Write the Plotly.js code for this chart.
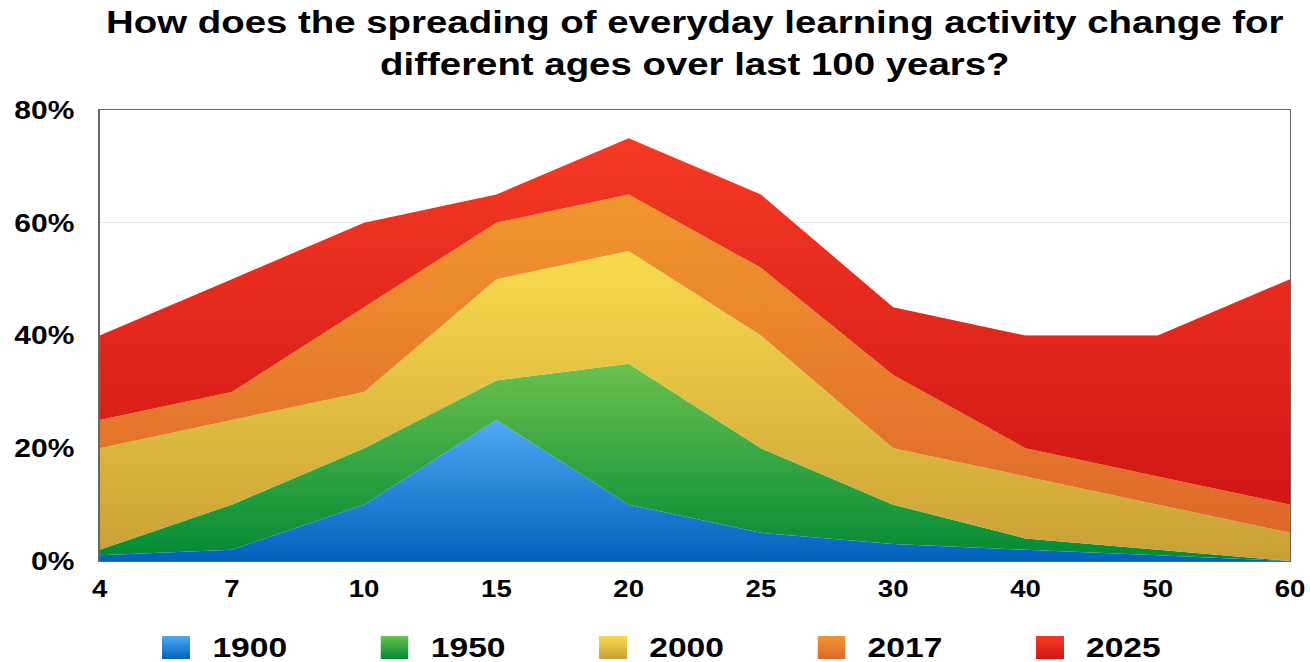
<!DOCTYPE html>
<html>
<head>
<meta charset="utf-8">
<script src="https://cdn.plot.ly/plotly-3.0.1.min.js"></script>
<style>
  html, body { margin: 0; padding: 0; overflow: hidden; background: #fff; width: 1310px; height: 662px; }
  /* the chart is laid out narrower and widened horizontally for the wide lettering */
  #chart { width: 1092px; height: 662px; transform: scaleX(1.2); transform-origin: 0 0; }
</style>
</head>
<body>
<div id="chart"></div>
<script>
// Ages (category axis) and the share of each period, stacked bottom to top
const ages = ['4', '7', '10', '15', '20', '25', '30', '40', '50', '60'];
const years = ['1900', '1950', '2000', '2017', '2025'];

const share1900 = [1, 2, 10, 25, 10, 5, 3, 2, 1, 0];
const share1950 = [1, 8, 10, 7, 25, 15, 7, 2, 1, 0];
const share2000 = [18, 15, 10, 18, 20, 20, 10, 11, 8, 5];
const share2017 = [5, 5, 15, 10, 10, 12, 13, 5, 5, 5];
const share2025 = [15, 20, 15, 5, 10, 13, 12, 20, 25, 40];

const yTickVals = [0, 20, 40, 60, 80];
const yTickText = ['0%', '20%', '40%', '60%', '80%'];

const series = [share1900, share1950, share2000, share2017, share2025];

// light (top) and dark (bottom) colour of each band
const lightColors = ['#4fa9f3', '#6cc04e', '#f8db4c', '#f1962f', '#f43a24'];
const darkColors  = ['#0062bb', '#008a35', '#c99f35', '#df6829', '#d21616'];

const STRETCH = 1.2;
const W = 1092, H = 662;
const M = { l: 83, r: 17, t: 110, b: 101 };
const plotW = W - M.l - M.r, plotH = H - M.t - M.b;
// screen pixel -> paper coordinates
const px = v => (v / STRETCH - M.l) / plotW;
const py = v => (H - M.b - v) / plotH;

const font = 'Liberation Sans, Arial, Helvetica, sans-serif';

const traces = [];
let below = ages.map(() => 0);
series.forEach((vals, i) => {
  const above = vals.map((v, k) => v + below[k]);
  traces.push({
    type: 'scatter',
    x: ages,
    y: vals,
    name: years[i],
    mode: 'none',
    stackgroup: 'ages',
    fillgradient: {
      type: 'vertical',
      colorscale: [[0, darkColors[i]], [1, lightColors[i]]],
      start: Math.min(...below),
      stop: Math.max(...above)
    },
    hoverinfo: 'skip',
    showlegend: false
  });
  below = above;
});

// legend: gradient swatches and labels along the bottom
function swatch(top, bottom) {
  const svg = "<svg xmlns='http://www.w3.org/2000/svg' width='10' height='10' viewBox='0 0 10 10' preserveAspectRatio='none'>" +
    "<defs><linearGradient id='g' x1='0' y1='0' x2='0' y2='1'>" +
    "<stop offset='0' stop-color='" + top + "'/><stop offset='1' stop-color='" + bottom + "'/>" +
    "</linearGradient></defs><rect width='10' height='10' fill='url(#g)'/></svg>";
  return 'data:image/svg+xml;charset=utf-8,' + encodeURIComponent(svg);
}

const images = [], annotations = [];
years.forEach((yr, i) => {
  const left = 162 + i * 218.5;
  images.push({
    source: swatch(lightColors[i], darkColors[i]),
    xref: 'paper', yref: 'paper',
    x: px(left), y: py(636),
    sizex: 28 / STRETCH / plotW, sizey: 23 / plotH,
    xanchor: 'left', yanchor: 'top',
    sizing: 'stretch', layer: 'above'
  });
  annotations.push({
    text: yr,
    xref: 'paper', yref: 'paper',
    x: px(left + 48), y: py(647),
    xanchor: 'left', yanchor: 'middle',
    showarrow: false,
    font: { family: font, size: 28, weight: 'bold', color: '#000' }
  });
});

const layout = {
  width: W, height: H,
  margin: M,
  paper_bgcolor: '#fff',
  plot_bgcolor: '#fff',
  showlegend: false,
  title: {
    text: 'How does the spreading of everyday learning activity change for<br>different ages over last 100 years?',
    font: { family: font, size: 32, weight: 'bold', color: '#000' },
    x: 0.5, xref: 'paper',
    y: 1 - 33 / H, yref: 'container', yanchor: 'top'
  },
  xaxis: {
    type: 'category',
    range: [0, ages.length - 1],
    showgrid: false,
    zeroline: false,
    showline: true, mirror: true, linecolor: '#666', linewidth: 1,
    ticks: '',
    ticklabelstandoff: 7,
    tickfont: { family: font, size: 23, weight: 'bold', color: '#000' },
    fixedrange: true
  },
  yaxis: {
    range: [0, 80],
    tickmode: 'array',
    tickvals: yTickVals,
    ticktext: yTickText,
    showgrid: true, gridcolor: '#e6e6e6', gridwidth: 1,
    zeroline: false,
    showline: true, mirror: true, linecolor: '#666', linewidth: 1,
    ticks: '',
    ticklabelstandoff: 15,
    tickfont: { family: font, size: 25, weight: 'bold', color: '#000' },
    fixedrange: true
  },
  images: images,
  annotations: annotations
};

Plotly.newPlot('chart', traces, layout, { displayModeBar: false, staticPlot: true });
</script>
</body>
</html>
